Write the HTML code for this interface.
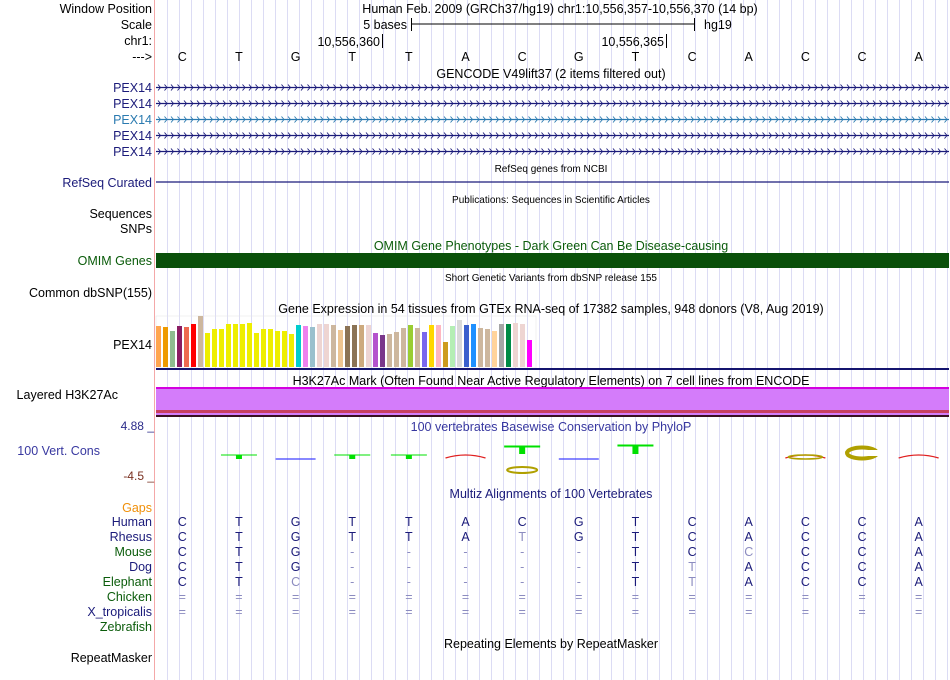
<!DOCTYPE html>
<html><head><meta charset="utf-8"><style>
html,body{margin:0;padding:0;background:#fff;}
svg{display:block;font-family:"Liberation Sans",Arial,sans-serif;}
</style></head><body>
<svg id="c" width="950" height="680" xmlns="http://www.w3.org/2000/svg">
<g id="grid"></g>
<line x1="154.5" y1="0" x2="154.5" y2="680" stroke="#f4a8a8" stroke-width="1"/>

<g font-size="12.5" fill="#000">
<text x="152" y="13" text-anchor="end">Window Position</text>
<text x="560" y="13" text-anchor="middle">Human Feb. 2009 (GRCh37/hg19)   chr1:10,556,357-10,556,370 (14 bp)</text>
<text x="152" y="29" text-anchor="end">Scale</text>
<text x="407" y="29" text-anchor="end">5 bases</text>
<line x1="411" y1="24" x2="694" y2="24" stroke="#000"/>
<line x1="411.5" y1="18" x2="411.5" y2="31" stroke="#000"/>
<line x1="694.5" y1="18" x2="694.5" y2="31" stroke="#000"/>
<text x="704" y="29">hg19</text>
<text x="152" y="45" text-anchor="end">chr1:</text>
<text x="380" y="46" text-anchor="end">10,556,360</text>
<line x1="382.5" y1="34" x2="382.5" y2="48" stroke="#000"/>
<text x="664" y="46" text-anchor="end">10,556,365</text>
<line x1="666.5" y1="34" x2="666.5" y2="48" stroke="#000"/>
<text x="152" y="61" text-anchor="end">---&gt;</text>
<g id="bases"></g>
<text x="551" y="78" text-anchor="middle">GENCODE V49lift37 (2 items filtered out)</text>
</g>

<g id="genes" font-size="12.5"></g>

<text x="551" y="172" font-size="10" text-anchor="middle">RefSeq genes from NCBI</text>
<text x="152" y="187" font-size="12.5" fill="#1b1b7a" text-anchor="end">RefSeq Curated</text>
<line x1="156" y1="182" x2="949" y2="182" stroke="#1b1b7a" stroke-width="1.2"/>
<text x="551" y="203" font-size="10" text-anchor="middle">Publications: Sequences in Scientific Articles</text>
<text x="152" y="218" font-size="12.5" text-anchor="end">Sequences</text>
<text x="152" y="233" font-size="12.5" text-anchor="end">SNPs</text>
<text x="551" y="250" font-size="12.5" fill="#0b5c0b" text-anchor="middle">OMIM Gene Phenotypes - Dark Green Can Be Disease-causing</text>
<rect x="156" y="253" width="793" height="15" fill="#0a500a"/>
<text x="152" y="265" font-size="12.5" fill="#0b5c0b" text-anchor="end">OMIM Genes</text>
<text x="551" y="281" font-size="10" text-anchor="middle">Short Genetic Variants from dbSNP release 155</text>
<text x="152" y="297" font-size="12.5" text-anchor="end">Common dbSNP(155)</text>
<text x="551" y="313" font-size="12.5" text-anchor="middle">Gene Expression in 54 tissues from GTEx RNA-seq of 17382 samples, 948 donors (V8, Aug 2019)</text>
<text x="152" y="349" font-size="12.5" text-anchor="end">PEX14</text>
<rect x="156" y="316" width="380" height="52" fill="none" stroke="#e4e4e4" stroke-width="0.5"/>
<g id="gtex"></g>
<rect x="156" y="368" width="793" height="2" fill="#14146e"/>

<text x="551" y="385" font-size="12.5" text-anchor="middle">H3K27Ac Mark (Often Found Near Active Regulatory Elements) on 7 cell lines from ENCODE</text>
<rect x="156" y="387" width="793" height="2" fill="#d400e0"/>
<rect x="156" y="389" width="793" height="21" fill="#d47cfa"/>
<rect x="156" y="410" width="793" height="3" fill="#c84060"/>
<rect x="156" y="413" width="793" height="2" fill="#d47cfa"/>
<rect x="156" y="415" width="793" height="2" fill="#3a1020"/>
<text x="118" y="399" font-size="12.5" text-anchor="end">Layered H3K27Ac</text>

<text x="154" y="430" font-size="12" fill="#2b2b8a" text-anchor="end">4.88 _</text>
<text x="551" y="431" font-size="12.5" fill="#3838a0" text-anchor="middle">100 vertebrates Basewise Conservation by PhyloP</text>
<text x="100" y="455" font-size="12.5" fill="#3838a0" text-anchor="end">100 Vert. Cons</text>
<text x="154" y="480" font-size="12" fill="#7a3020" text-anchor="end">-4.5 _</text>
<g id="phylo"></g>

<text x="551" y="498" font-size="12.5" fill="#1b1b7a" text-anchor="middle">Multiz Alignments of 100 Vertebrates</text>
<text x="152" y="512" font-size="12.5" fill="#f0900a" text-anchor="end">Gaps</text>
<g id="multiz" font-size="12.5"></g>

<text x="551" y="648" font-size="12.5" text-anchor="middle">Repeating Elements by RepeatMasker</text>
<text x="152" y="662" font-size="12.5" text-anchor="end">RepeatMasker</text>
</svg>
<script>
const NS="http://www.w3.org/2000/svg";
const seq=["C","T","G","T","T","A","C","G","T","C","A","C","C","A"];
const gtexTissues=["Adipose-Subcutaneous","Adipose-Visceral","Adrenal","Artery-Aorta","Artery-Coronary","Artery-Tibial","Bladder","Brain-Amygdala","Brain-ACC","Brain-Caudate","Brain-CerebHem","Brain-Cerebellum","Brain-Cortex","Brain-FrontalCortex","Brain-Hippocampus","Brain-Hypothalamus","Brain-Nucleus","Brain-Putamen","Brain-SpinalCord","Brain-SubstantiaNigra","Breast","Cells-EBV","Cells-Fibroblasts","Cervix-Ecto","Cervix-Endo","Colon-Sigmoid","Colon-Transverse","Esophagus-GEJ","Esophagus-Mucosa","Esophagus-Muscularis","FallopianTube","Heart-AtrialApp","Heart-LV","Kidney-Cortex","Kidney-Medulla","Liver","Lung","MinorSalivary","Muscle","Nerve","Ovary","Pancreas","Pituitary","Prostate","Skin-NotSun","Skin-Sun","SmallIntestine","Spleen","Stomach","Testis","Thyroid","Uterus","Vagina","WholeBlood"];
const gtexValues=[41,40,36,41,40,43,51,34,38,38,43,43,43,44,34,38,38,36,36,33,42,41,40,43,43,42,37,41,42,42,42,34,32,33,35,39,42,39,35,42,42,25,41,47,42,43,39,38,36,43,43,44,43,27];
const gtexColors=["#FFA54F","#EE9A00","#8FBC8F","#8B1C62","#EE6A50","#FF0000","#CDB79E","#EEEE00","#EEEE00","#EEEE00","#EEEE00","#EEEE00","#EEEE00","#EEEE00","#EEEE00","#EEEE00","#EEEE00","#EEEE00","#EEEE00","#EEEE00","#00CDCD","#EE82EE","#9AC0CD","#EED5D2","#EED5D2","#CDB79E","#EEC591","#8B7355","#8B7355","#CDAA7D","#EED5D2","#B452CD","#7A378B","#CDB79E","#CDB79E","#CDB79E","#9ACD32","#CDB79E","#7A67EE","#FFD700","#FFB6C1","#CD9B1D","#B4EEB4","#D9D9D9","#3A5FCD","#1E90FF","#CDB79E","#CDB79E","#FFD39B","#A6A6A6","#008B45","#EED5D2","#EED5D2","#FF00FF"];
const phyloValues=[0,0.3,-0.1,0.3,0.3,-0.4,1.2,-0.1,1.3,0,0,-0.3,-1.6,-0.4];
const species=["Human","Rhesus","Mouse","Dog","Elephant","Chicken","X_tropicalis","Zebrafish"];
const speciesColors=["#1b1b7a","#1b1b7a","#0b5c0b","#1b1b7a","#0b5c0b","#0b5c0b","#1b1b7a","#0b5c0b"];
const alignments=["CTGTTACGTCACCA","CTGTTATGTCACCA","CTG-----TCCCCA","CTG-----TTACCA","CTC-----TTACCA","==============","==============","              "];

const x0=154, bw=56.64;
const bx=i=>x0+bw*(i+0.5);
function el(tag,attrs,parent){const e=document.createElementNS(NS,tag);for(const k in attrs)e.setAttribute(k,attrs[k]);parent.appendChild(e);return e;}

const grid=document.getElementById('grid');
for(let x=167.5;x<950;x+=12){el('line',{x1:x,y1:0,x2:x,y2:680,stroke:'#dcdcf4','stroke-width':1},grid);}

const bases=document.getElementById('bases');
seq.forEach((b,i)=>{const t=el('text',{x:bx(i),y:61,'text-anchor':'middle'},bases);


t.textContent=b;});

const genes=document.getElementById('genes');
[87,103,119,135,151].forEach((y,i)=>{const col=i==2?'#2a7ab0':'#1b1b7a';
const t=el('text',{x:152,y:y+5,'text-anchor':'end',fill:col},genes);


t.textContent='PEX14';
const g=el('g',{},genes);


el('line',{x1:156,y1:y+0.5,x2:949,y2:y+0.5,stroke:col,'stroke-width':1.2},g);
let d='';for(let x=158;x<946;x+=6.5){d+=`M${x.toFixed(1)},${y-2.5} L${(x+2.5).toFixed(1)},${y+0.5} L${x.toFixed(1)},${y+3.5} `;}
el('path',{d:d,fill:'none',stroke:col,'stroke-width':0.9},g);});

const gtex=document.getElementById('gtex');
const gBase=367, gScale=1;
gtexValues.forEach((v,i)=>{const r=el('rect',{x:156+7*i,y:gBase-v*gScale,width:5,height:v*gScale,fill:gtexColors[i]},gtex);

});

const phylo=document.getElementById('phylo');
const zeroY=458, pScale=6;
phyloValues.forEach((v,i)=>{if(v===0)return;const cx=bx(i);
if(v>0.2){const h=Math.max(3,v*pScale*1.6);
const l=el('line',{x1:cx-18,y1:zeroY-h,x2:cx+18,y2:zeroY-h,stroke:'#00e000','stroke-width':v>1?2:1},phylo);


const r=el('rect',{x:cx-3,y:zeroY-h,width:6,height:v>1?h-4:4,fill:'#00e000'},phylo);

}
else if(v>=-0.2){const l=el('line',{x1:cx-20,y1:zeroY+1,x2:cx+20,y2:zeroY+1,stroke:'#4040ff','stroke-width':1.2},phylo);

}
else if(v>-1){const p=el('path',{d:`M${cx-20},${zeroY} Q${cx},${zeroY-6} ${cx+20},${zeroY}`,fill:'none',stroke:'#e02020','stroke-width':1.3},phylo);

}
else{const e=el('ellipse',{cx:cx,cy:zeroY-5,rx:15,ry:5.5,fill:'none',stroke:'#b0a000','stroke-width':4},phylo);


el('rect',{x:cx+6,y:zeroY-8,width:12,height:6,fill:'#fff'},phylo);}
});
// secondary logo glyphs
const e6=el('ellipse',{cx:bx(6),cy:470,rx:15,ry:3,fill:'none',stroke:'#b0a000','stroke-width':2},phylo);


const e10=el('ellipse',{cx:bx(11),cy:457,rx:17,ry:2,fill:'none',stroke:'#b0a000','stroke-width':1.5},phylo);



const mz=document.getElementById('multiz');
species.forEach((s,r)=>{const y=526+15*r;
const t=el('text',{x:152,y:y,'text-anchor':'end',fill:speciesColors[r]},mz);


t.textContent=s;
const a=alignments[r];
for(let i=0;i<seq.length;i++){const c=a[i];if(c===' ')continue;
let fill='#1b1b7a';if(c==='-'||c==='=')fill='#8c8cc0';else if(r>0&&c!==seq[i])fill='#8c8cc0';
const tt=el('text',{x:bx(i),y:y,'text-anchor':'middle',fill:fill},mz);


tt.textContent=c;}});
</script>
</body></html>
